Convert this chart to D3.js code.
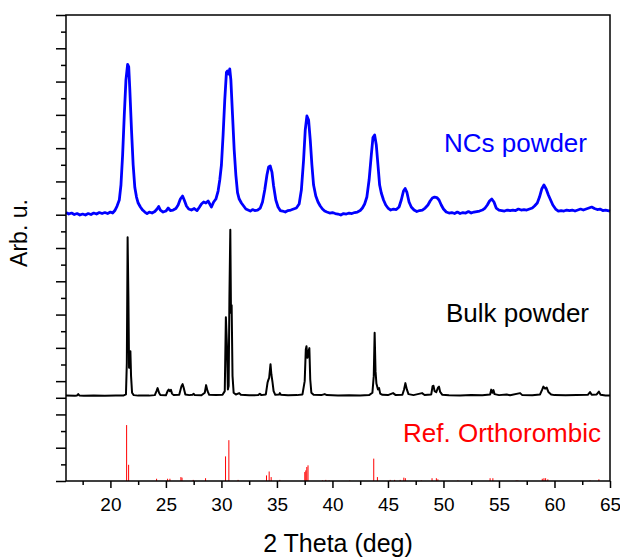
<!DOCTYPE html>
<html>
<head>
    <meta charset="utf-8">
    <title>XRD patterns</title>
    <script src="https://cdnjs.cloudflare.com/ajax/libs/d3/7.8.5/d3.min.js"></script>
</head>
<style media="screen">
    body {
        margin: 0;
        background: #fff;
    }
    svg text {
        font-family: "Liberation Sans", Arial, sans-serif;
    }
    .axis path {
        display: none;
    }
    .axis line {
        stroke: #000;
        stroke-width: 1.5;
    }
    .frame {
        fill: none;
        stroke: #000;
        stroke-width: 1.5;
    }
</style>

<body>
    <script>
        // [2theta (deg), intensity]
        var ncPowder = [
            [16.0, 5], [16.25, 2], [16.5, 4], [16.75, 1], [17.0, 3], [17.25, 0], [17.5, 2], [17.75, 0],
            [18.0, 3], [18.25, 1], [18.5, 4], [18.75, 2], [19.0, 5], [19.25, 3], [19.5, 5], [19.75, 3],
            [20.0, 6], [20.2, 4], [20.4, 9], [20.6, 18], [20.8, 30], [20.95, 60], [21.1, 120], [21.25, 200],
            [21.4, 270], [21.55, 301], [21.65, 296], [21.75, 250], [21.9, 170], [22.05, 100], [22.2, 55],
            [22.35, 36], [22.5, 24], [22.7, 16], [22.9, 10], [23.1, 6], [23.3, 3], [23.5, 6], [23.75, 4],
            [24.0, 7], [24.2, 12], [24.35, 17], [24.5, 10], [24.75, 6], [25.0, 8], [25.2, 14], [25.4, 9],
            [25.65, 10], [25.9, 13], [26.1, 20], [26.3, 32], [26.5, 38], [26.65, 30], [26.85, 18],
            [27.05, 12], [27.3, 10], [27.55, 13], [27.8, 9], [28.0, 15], [28.2, 22], [28.4, 26], [28.6, 24],
            [28.8, 28], [29.0, 20], [29.1, 16], [29.3, 26], [29.5, 32], [29.7, 48], [29.85, 70], [30.0, 100],
            [30.15, 160], [30.3, 230], [30.45, 285], [30.55, 288], [30.65, 282], [30.75, 292], [30.85, 270],
            [31.0, 200], [31.15, 130], [31.3, 80], [31.45, 45], [31.6, 32], [31.8, 24], [32.0, 18], [32.2, 12],
            [32.4, 10], [32.6, 8], [32.8, 11], [33.0, 9], [33.25, 10], [33.5, 14], [33.7, 26], [33.9, 50],
            [34.1, 80], [34.25, 96], [34.4, 98], [34.55, 86], [34.7, 58], [34.9, 30], [35.1, 16], [35.3, 9],
            [35.5, 8], [35.75, 6], [36.0, 9], [36.25, 10], [36.5, 12], [36.75, 14], [37.0, 22], [37.2, 50],
            [37.4, 110], [37.55, 170], [37.7, 198], [37.85, 190], [38.0, 150], [38.15, 100], [38.3, 60],
            [38.5, 38], [38.7, 26], [38.9, 18], [39.1, 12], [39.3, 8], [39.5, 6], [39.75, 4], [40.0, 5],
            [40.25, 3], [40.5, 2], [40.75, 0], [41.0, 3], [41.25, 2], [41.5, 4], [41.75, 3], [42.0, 5],
            [42.25, 6], [42.5, 9], [42.7, 14], [42.9, 22], [43.1, 36], [43.3, 70], [43.5, 120], [43.65, 155],
            [43.8, 160], [43.95, 140], [44.1, 100], [44.25, 60], [44.4, 44], [44.6, 30], [44.8, 20],
            [45.0, 14], [45.25, 10], [45.5, 12], [45.75, 11], [46.0, 16], [46.2, 30], [46.4, 48], [46.55, 53],
            [46.7, 46], [46.9, 26], [47.1, 16], [47.35, 10], [47.6, 7], [47.85, 9], [48.1, 10], [48.35, 14],
            [48.6, 20], [48.8, 28], [49.0, 34], [49.2, 36], [49.4, 35], [49.6, 30], [49.8, 20], [50.0, 12],
            [50.25, 6], [50.5, 4], [50.75, 5], [51.0, 3], [51.25, 6], [51.5, 3], [51.75, 5], [52.0, 4],
            [52.25, 7], [52.5, 4], [52.75, 6], [53.0, 7], [53.25, 8], [53.5, 10], [53.75, 14], [53.95, 20],
            [54.15, 28], [54.35, 32], [54.55, 26], [54.75, 14], [55.0, 10], [55.25, 9], [55.5, 8], [55.75, 10],
            [56.0, 9], [56.25, 10], [56.5, 9], [56.75, 12], [57.0, 10], [57.25, 11], [57.5, 10], [57.75, 12],
            [58.0, 14], [58.2, 18], [58.45, 24], [58.65, 36], [58.85, 52], [59.05, 60], [59.25, 52],
            [59.45, 40], [59.65, 30], [59.85, 20], [60.1, 12], [60.35, 8], [60.6, 9], [60.85, 8], [61.1, 10],
            [61.35, 9], [61.6, 10], [61.85, 8], [62.1, 10], [62.35, 12], [62.6, 10], [62.85, 12], [63.1, 14],
            [63.35, 16], [63.6, 13], [63.85, 11], [64.1, 12], [64.35, 9], [64.6, 10], [65.0, 8]
        ];

        var bulkPowder = [
            [16.0, 3], [16.8, 2], [17.0, 4], [17.1, 12], [17.2, 4], [17.6, 2], [18.5, 3], [19.5, 2], [20.5, 3],
            [21.2, 4], [21.4, 10], [21.48, 200], [21.55, 953], [21.62, 600], [21.68, 170], [21.75, 230],
            [21.8, 270], [21.86, 120], [21.95, 20], [22.1, 6], [22.5, 3], [23.0, 4], [23.5, 3], [24.0, 6],
            [24.15, 30], [24.25, 48], [24.38, 20], [24.5, 6], [25.0, 5], [25.15, 30], [25.25, 39], [25.35, 30],
            [25.45, 38], [25.55, 15], [25.7, 6], [26.2, 8], [26.4, 60], [26.5, 72], [26.6, 50], [26.75, 10],
            [27.1, 6], [27.4, 8], [27.5, 14], [27.6, 6], [28.2, 5], [28.5, 20], [28.62, 66], [28.75, 30],
            [28.9, 8], [29.5, 6], [30.1, 8], [30.3, 30], [30.4, 474], [30.5, 300], [30.58, 40], [30.65, 60],
            [30.72, 600], [30.8, 999], [30.86, 500], [30.92, 546], [31.0, 120], [31.1, 20], [31.3, 10],
            [31.6, 18], [31.75, 8], [32.5, 5], [33.3, 6], [33.46, 14], [33.6, 6], [34.0, 10], [34.15, 80],
            [34.22, 96], [34.3, 110], [34.42, 192], [34.5, 130], [34.6, 84], [34.7, 30], [34.85, 8],
            [35.2, 10], [35.26, 18], [35.35, 8], [36.0, 5], [36.8, 6], [37.3, 10], [37.5, 90], [37.6, 280],
            [37.66, 300], [37.75, 230], [37.85, 270], [37.92, 288], [38.0, 100], [38.1, 20], [38.3, 8],
            [39.0, 6], [39.3, 12], [39.5, 6], [40.5, 4], [41.5, 5], [42.5, 4], [43.3, 6], [43.6, 20],
            [43.72, 120], [43.8, 380], [43.88, 150], [43.96, 76], [44.1, 40], [44.2, 48], [44.3, 15],
            [44.5, 8], [45.0, 6], [45.46, 18], [45.7, 6], [46.3, 8], [46.45, 40], [46.57, 78], [46.7, 40],
            [46.85, 12], [47.3, 6], [48.07, 18], [48.3, 7], [48.9, 10], [49.02, 60], [49.1, 62], [49.2, 30],
            [49.35, 24], [49.5, 50], [49.6, 57], [49.7, 25], [49.9, 8], [50.5, 5], [51.5, 4], [52.5, 6],
            [53.5, 5], [54.2, 10], [54.3, 39], [54.4, 20], [54.5, 36], [54.6, 12], [55.0, 6], [55.7, 10],
            [56.0, 5], [56.9, 18], [57.1, 6], [58.0, 5], [58.7, 10], [58.9, 40], [59.0, 57], [59.15, 45],
            [59.3, 51], [59.45, 25], [59.7, 10], [60.0, 6], [61.0, 5], [62.0, 6], [63.0, 8], [63.2, 24],
            [63.35, 8], [63.8, 10], [64.0, 27], [64.15, 8], [64.6, 4], [65.0, 4]
        ];

        var refOrthorhombic = [
            [21.46, 100], [21.64, 29], [24.16, 4], [25.15, 4], [25.36, 4], [26.35, 7], [26.45, 6],
            [27.46, 2], [28.57, 5], [30.37, 44], [30.67, 73], [31.5, 2], [34.06, 10], [34.3, 17],
            [34.48, 7], [35.26, 2], [37.51, 16], [37.6, 19], [37.69, 25], [37.8, 28], [39.1, 1],
            [39.4, 2], [39.7, 1], [41.56, 1], [43.72, 40], [44.05, 7], [45.2, 2], [45.6, 2], [46.1, 2],
            [46.43, 6], [46.57, 5], [48.0, 1], [48.97, 5], [49.36, 5], [49.5, 3], [51.3, 1], [54.2, 5],
            [54.45, 5], [56.55, 1], [56.7, 1], [58.9, 4], [59.05, 5], [59.2, 5], [59.4, 3], [63.2, 1],
            [64.0, 3]
        ];

        var xTicks = [20, 25, 30, 35, 40, 45, 50, 55, 60, 65];
        var xMinorTicks = [17.5, 22.5, 27.5, 32.5, 37.5, 42.5, 47.5, 52.5, 57.5, 62.5];
        var labels = ["NCs powder", "Bulk powder", "Ref. Orthorombic"];
        var colors = ["#0000ff", "#000000", "#ff0000"];

        var w = 620, h = 560;
        var plotLeft = 66, plotRight = 610, plotTop = 15, plotBottom = 481;

        var svg = d3.select("body")
            .append("svg")
            .attr("width", w)
            .attr("height", h);

        var x = d3.scaleLinear()
            .domain([16, 65])
            .range([plotLeft, plotRight]);

        // frame units, one major tick per unit
        var yFrame = d3.scaleLinear()
            .domain([0, 14])
            .range([plotBottom, plotTop]);

        var yRef = d3.scaleLinear().domain([0, 100]).range([yFrame(0), yFrame(1.68)]);
        var yBulk = d3.scaleLinear().domain([0, 1000]).range([yFrame(2.55), yFrame(7.555)]);
        var yNC = d3.scaleLinear().domain([0, 300]).range([yFrame(7.99), yFrame(12.5)]);

        // x axis
        var xAxis = svg.append("g")
            .attr("class", "axis")
            .attr("transform", "translate(0," + plotBottom + ")")
            .call(d3.axisBottom(x).tickValues(xTicks).tickSize(7).tickPadding(10));
        xAxis.selectAll("text")
            .attr("fill", "#000")
            .style("font-size", "19px");

        svg.append("g")
            .attr("class", "axis")
            .attr("transform", "translate(0," + plotBottom + ")")
            .call(d3.axisBottom(x).tickValues(xMinorTicks).tickSize(4).tickFormat(""));

        // y axis, no labels
        svg.append("g")
            .attr("class", "axis")
            .attr("transform", "translate(" + plotLeft + ",0)")
            .call(d3.axisLeft(yFrame).tickValues(d3.range(0, 15).concat([2.5])).tickSize(10).tickFormat(""));

        svg.append("g")
            .attr("class", "axis")
            .attr("transform", "translate(" + plotLeft + ",0)")
            .call(d3.axisLeft(yFrame)
                .tickValues(d3.range(0.5, 14, 1).filter(function(v) { return v !== 2.5; }))
                .tickSize(5)
                .tickFormat(""));

        // reference sticks
        svg.append("g")
            .selectAll("line")
            .data(refOrthorhombic)
            .enter()
            .append("line")
            .attr("x1", function(d) { return x(d[0]); })
            .attr("x2", function(d) { return x(d[0]); })
            .attr("y1", yRef(0))
            .attr("y2", function(d) { return yRef(d[1]); })
            .attr("stroke", colors[2])
            .attr("stroke-width", 1);

        var bulkLine = d3.line()
            .x(function(d) { return x(d[0]); })
            .y(function(d) { return yBulk(d[1]); });

        svg.append("path")
            .datum(bulkPowder)
            .attr("d", bulkLine)
            .attr("fill", "none")
            .attr("stroke", colors[1])
            .attr("stroke-width", 2)
            .attr("stroke-linejoin", "round");

        var ncLine = d3.line()
            .x(function(d) { return x(d[0]); })
            .y(function(d) { return yNC(d[1]); });

        svg.append("path")
            .datum(ncPowder)
            .attr("d", ncLine)
            .attr("fill", "none")
            .attr("stroke", colors[0])
            .attr("stroke-width", 2.8)
            .attr("stroke-linejoin", "round");

        svg.append("rect")
            .attr("class", "frame")
            .attr("x", plotLeft)
            .attr("y", plotTop)
            .attr("width", plotRight - plotLeft)
            .attr("height", plotBottom - plotTop);

        // panel labels
        var labelPos = [[587, 151.5], [589, 322], [601, 442.3]];
        svg.selectAll(".panel-label")
            .data(labels)
            .enter()
            .append("text")
            .attr("class", "panel-label")
            .attr("x", function(d, i) { return labelPos[i][0]; })
            .attr("y", function(d, i) { return labelPos[i][1]; })
            .attr("text-anchor", "end")
            .attr("fill", function(d, i) { return colors[i]; })
            .style("font-size", "26px")
            .text(function(d) { return d; });

        svg.append("text")
            .attr("transform", "translate(26.5,233) rotate(-90)")
            .attr("text-anchor", "middle")
            .style("font-size", "23px")
            .text("Arb. u.");

        svg.append("text")
            .attr("x", 338)
            .attr("y", 552)
            .attr("text-anchor", "middle")
            .style("font-size", "25px")
            .text("2 Theta (deg)");
    </script>
</body>

</html>
